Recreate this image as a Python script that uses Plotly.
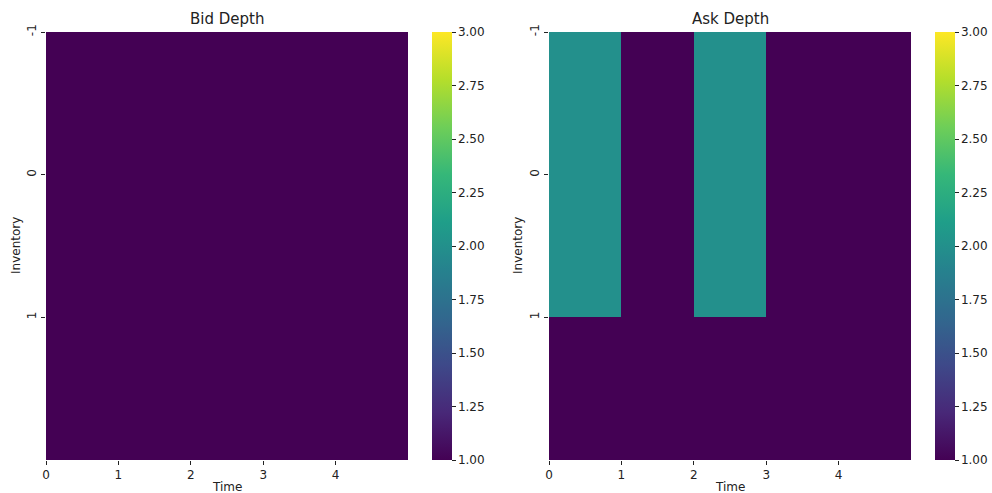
import plotly.graph_objects as go

time = [0, 1, 2, 3, 4]
inventory = [-1, 0, 1]
bid_depth = [
    [1, 1, 1, 1, 1],
    [1, 1, 1, 1, 1],
    [1, 1, 1, 1, 1],
]
ask_depth = [
    [2, 1, 2, 1, 1],
    [2, 1, 2, 1, 1],
    [1, 1, 1, 1, 1],
]
cbar_ticks = [1.00, 1.25, 1.50, 1.75, 2.00, 2.25, 2.50, 2.75, 3.00]

W, H = 992, 493
L, R, T, B = 46, 911, 32, 460  # plot area in pixels
PW, PH = R - L, B - T
FONT = "DejaVu Sans"
FC = "#222222"

def px(x):
    return (x - L) / PW

def py(y):
    return (B - y) / PH

x_centers = [i + 0.5 for i in range(len(time))]
y_centers = [i + 0.5 for i in range(len(inventory))]

panels = [
    ("Bid Depth", bid_depth, 46, 408, 432, 16),
    ("Ask Depth", ask_depth, 549, 911, 935, 518),
]

fig = go.Figure()
annotations = []
for k, (title, z, x0, x1, cbx, invx) in enumerate(panels):
    ax = "" if k == 0 else str(k + 1)
    fig.add_trace(go.Heatmap(
        z=z, x=x_centers, y=y_centers,
        xaxis="x" + ax, yaxis="y" + ax,
        colorscale="Viridis", zmin=1, zmax=3,
        colorbar=dict(
            x=px(cbx), xanchor="left", xref="paper", xpad=0, ypad=0,
            y=0, yanchor="bottom", yref="paper", len=1, lenmode="fraction",
            thickness=20, thicknessmode="pixels",
            outlinewidth=0, ticks="outside", ticklen=4, tickwidth=1,
            tickcolor=FC, tickvals=cbar_ticks, tickformat=".2f",
            tickfont=dict(family=FONT, size=12, color=FC),
        ),
        hoverinfo="skip",
    ))
    fig.update_layout(**{
        "xaxis" + ax: dict(
            domain=[px(x0), px(x1)], range=[0, len(time)],
            anchor="y" + ax, automargin=False,
            tickvals=list(range(len(time))), ticktext=[str(t) for t in time],
            ticks="outside", ticklen=4, tickcolor=FC, showgrid=False,
            zeroline=False, showline=False,
            tickfont=dict(family=FONT, size=12, color=FC),
        ),
        "yaxis" + ax: dict(
            domain=[0, 1], range=[len(inventory), 0],
            anchor="x" + ax, automargin=False,
            tickvals=list(range(len(inventory))), ticktext=[str(v) for v in inventory],
            tickangle=-90,
            ticks="outside", ticklen=4, tickcolor=FC, showgrid=False,
            zeroline=False, showline=False,
            tickfont=dict(family=FONT, size=12, color=FC),
        ),
    })
    cx = (x0 + x1) / 2
    annotations.append(dict(text=title, x=px(cx), y=py(19), xref="paper", yref="paper",
                            xanchor="center", yanchor="middle", showarrow=False,
                            font=dict(family=FONT, size=15, color=FC)))
    annotations.append(dict(text="Time", x=px(cx), y=py(478), xref="paper", yref="paper",
                            xanchor="center", yanchor="top", showarrow=False,
                            font=dict(family=FONT, size=12, color=FC)))
    annotations.append(dict(text="Inventory", x=px(invx), y=py(246), xref="paper", yref="paper",
                            xanchor="center", yanchor="middle", showarrow=False, textangle=-90,
                            font=dict(family=FONT, size=12, color=FC)))

fig.update_layout(
    width=W, height=H, margin=dict(l=L, r=W - R, t=T, b=H - B, pad=0, autoexpand=False),
    paper_bgcolor="white", plot_bgcolor="white",
    annotations=annotations, showlegend=False,
)
fig.write_html(
    "out.html",
    config={"displayModeBar": False, "staticPlot": True},
    post_script="document.body.style.margin='0';document.body.style.overflow='hidden';",
)
